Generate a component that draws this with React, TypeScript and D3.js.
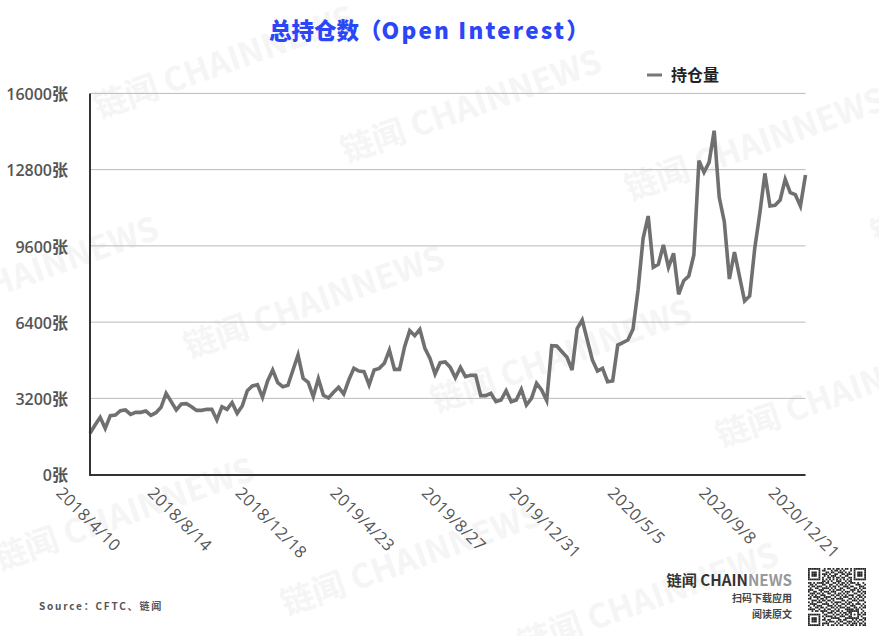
import React from 'react';
import * as d3 from 'd3';

const openInterest = [
  1733, 2082, 2403, 1942, 2473, 2501, 2683, 2711, 2530, 2613, 2613, 2669, 2487, 2599, 2823, 3411, 3061, 2711,
  2963, 2977, 2851, 2697, 2697, 2739, 2739, 2292, 2851, 2739, 3019, 2571, 2879, 3523, 3719, 3775, 3243, 3928,
  4390, 3858, 3691, 3747, 4390, 5020, 4040, 3873, 3271, 4026, 3327, 3215, 3453, 3663, 3383, 3970, 4460, 4348,
  4320, 3761, 4390, 4460, 4670, 5229, 4418, 4418, 5369, 6041, 5831, 6097, 5300, 4880, 4222, 4698, 4726, 4502,
  4068, 4502, 4110, 4166, 4166, 3313, 3313, 3411, 3061, 3131, 3523, 3061, 3131, 3579, 2921, 3201, 3831, 3551,
  3103, 5411, 5397, 5159, 4922, 4390, 6125, 6488, 5649, 4810, 4348, 4460, 3900, 3928, 5439, 5537, 5649, 6097,
  7748, 9916, 10853, 8699, 8825, 9636, 8699, 9287, 7566, 8139, 8335, 9217, 13176, 12686, 13106, 14435, 11637,
  10616, 8209, 9343, 8307, 7286, 7496, 9497, 10966, 12644, 11273, 11301, 11525, 12392, 11833, 11749, 11273, 12574,
];

const yTicks = [0, 3200, 6400, 9600, 12800, 16000];
const xTickIndex = [0, 18, 36, 54, 72, 90, 108, 126, 141];
const xTickLabels = [
  '2018/4/10', '2018/8/14', '2018/12/18', '2019/4/23', '2019/8/27',
  '2019/12/31', '2020/5/5', '2020/9/8', '2020/12/21',
];

const watermarks = [
  [95, 108], [342, 152], [626, 190], [-101, 319], [185, 348], [432, 402],
  [717, 437], [-5, 560], [282, 605], [519, 645], [872, 235],
];

const qrRows = [
  '111111100101101011010110101111111',
  '100000101100010110101000101000001',
  '101110100011011001110101001011101',
  '101110101110100110011011101011101',
  '101110100101011100100110001011101',
  '100000101001101011011001101000001',
  '111111101010101010101010101111111',
  '000000001101010011100101100000000',
  '110101111011001101011010111010010',
  '011010001100110010110101000111001',
  '101101110010101101001110110001110',
  '010011001111010100110011001101011',
  '111000111000101011101000111010100',
  '100110010111011100010111010011011',
  '011101101001100101101010001100101',
  '101010011100011011010101110011010',
  '010111100111100100101110010101101',
  '110001011010011011110001101010010',
  '001110101101101000011010011101110',
  '101001110010010111100101100010001',
  '011110001111001010011011010111010',
  '100101110001110101100100111000101',
  '010011011010011010111011001101011',
  '111100100101100101000111110110100',
  '001011011110011011010011111110010',
  '000000001001110100101101100010101',
  '111111100110001011010110101011011',
  '100000101011110100111001100010100',
  '101110100100011111000111111110011',
  '101110101101100001101100010101101',
  '101110100010111010110011101010010',
  '100000101111000101001101011101101',
  '111111101001011010110010110101011',
];

const width = 879;
const height = 636;
const left = 90;
const right = 805.5;
const top = 93.4;
const bottom = 474.6;

const font = '"Noto Sans CJK SC", "Noto Sans", sans-serif';

export default function App() {
  const x = d3.scaleLinear().domain([0, openInterest.length - 1]).range([left, right]);
  const y = d3.scaleLinear().domain([0, 16000]).range([bottom, top]);
  const line = d3
    .line<number>()
    .x((_, i) => x(i))
    .y((d) => y(d));
  const qr = d3.scaleLinear().domain([0, qrRows.length]).range([0, 58]);
  const cell = qr(1);

  return (
    <svg
      width={width}
      height={height}
      style={{ position: 'absolute', left: 0, top: 0, display: 'block', background: '#fff' }}
      fontFamily={font}
    >
      {watermarks.map(([wx, wy], i) => (
        <text
          key={i}
          transform={`translate(${wx},${wy}) rotate(-19.6)`}
          dy="0.35em"
          fontSize={33}
          fontWeight={700}
          fill="#f5f5f5"
          textLength={274}
          fontFamily='"Noto Sans CJK SC", Lato, sans-serif'
        >
          链闻 CHAINNEWS
        </text>
      ))}

      <text x={269} y={39} fontSize={22.5} fontWeight={900} fill="#2b46f6">
        总持仓数（<tspan letterSpacing={2.2}>Open Interest</tspan>）
      </text>

      <line x1={647} x2={662} y1={75} y2={75} stroke="#777" strokeWidth={3} />
      <text x={671} y={81} fontSize={16} fontWeight={700} fill="#222">
        持仓量
      </text>

      {yTicks.slice(1).map((t) => (
        <line key={t} x1={left} x2={right} y1={y(t)} y2={y(t)} stroke="#bbb" strokeWidth={1} />
      ))}

      {yTicks.map((t) => (
        <text
          key={t}
          x={68}
          y={y(t)}
          dy="0.42em"
          textAnchor="end"
          fontSize={16}
          fontWeight={600}
          fill="#555"
          fontFamily='"Open Sans", "Noto Sans CJK SC", sans-serif'
        >
          {t}张
        </text>
      ))}

      <path d={line(openInterest) ?? ''} fill="none" stroke="#707070" strokeWidth={3.6} strokeLinejoin="miter" />

      <line x1={left} x2={left} y1={top} y2={bottom + 1} stroke="#333" strokeWidth={2} />
      <line x1={left - 1} x2={right} y1={bottom + 0.5} y2={bottom + 0.5} stroke="#333" strokeWidth={2} />

      {xTickLabels.map((label, i) => (
        <text
          key={label}
          transform={`translate(${x(xTickIndex[i]) - label.length * 3.4},490) rotate(45)`}
          dy="0.35em"
          fontSize={16.5}
          letterSpacing={0.5}
          fill="#555"
          fontFamily='"Open Sans", sans-serif'
        >
          {label}
        </text>
      ))}

      <text x={39} y={610} fontSize={10} fontWeight={700} fill="#555" letterSpacing={1.8}>
        Source：CFTC、链闻
      </text>

      <text x={792} y={586} textAnchor="end" fontSize={15.2} fontWeight={700} fill="#333">
        链闻 CHAIN<tspan fill="#999">NEWS</tspan>
      </text>
      <text x={792} y={602} textAnchor="end" fontSize={10} fontWeight={700} fill="#444">
        扫码下载应用
      </text>
      <text x={792} y={618} textAnchor="end" fontSize={10} fontWeight={700} fill="#444">
        阅读原文
      </text>

      <g transform="translate(808,568)">
        {qrRows.map((row, r) =>
          row.split('').map((c, k) =>
            c === '1' ? <rect key={`${r}-${k}`} x={qr(k)} y={qr(r)} width={cell} height={cell} fill="#222" /> : null,
          ),
        )}
      </g>
    </svg>
  );
}
